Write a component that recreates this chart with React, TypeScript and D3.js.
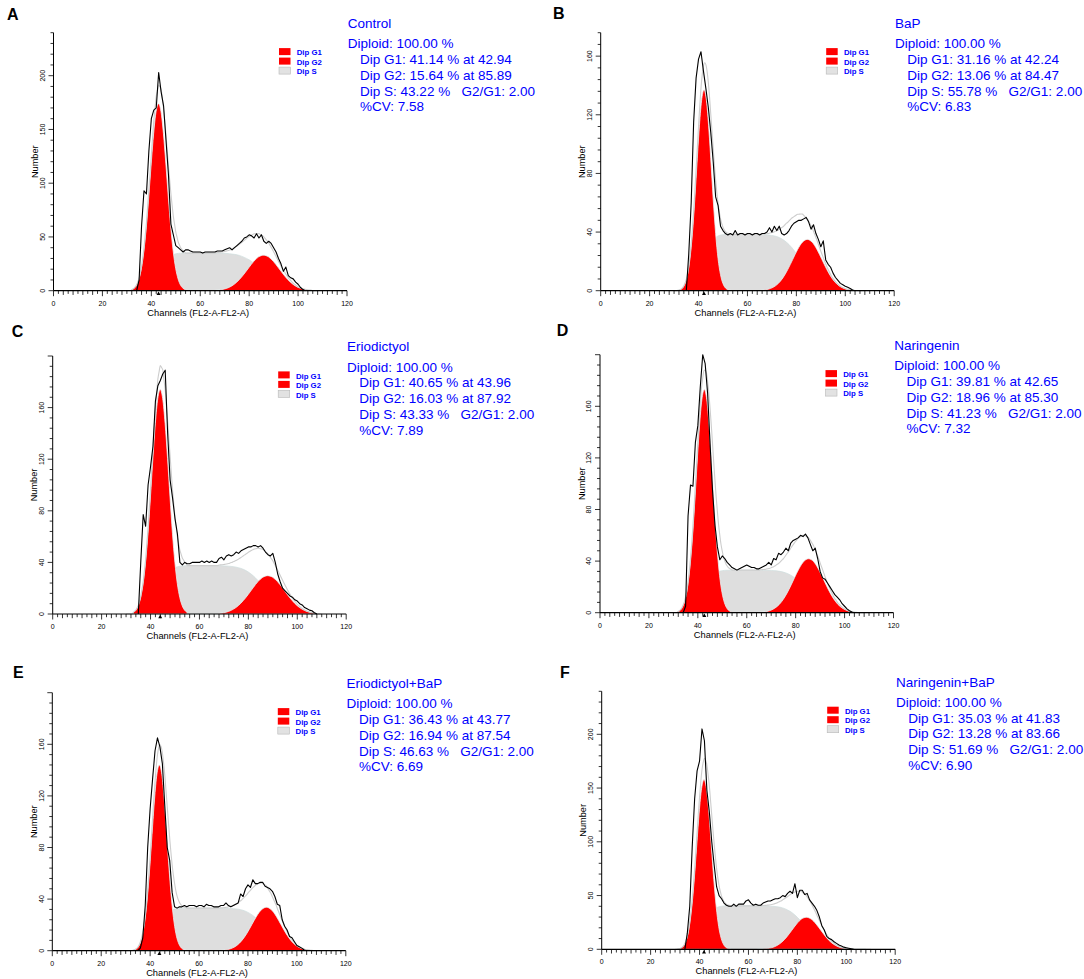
import React from 'react';
import * as d3 from 'd3';

// ---- data ----
const panelLetters = ['A', 'B', 'C', 'D', 'E', 'F'];
const panelTitles = ['Control', 'BaP', 'Eriodictyol', 'Naringenin', 'Eriodictyol+BaP', 'Naringenin+BaP'];
const g1Pct = ['41.14', '31.16', '40.65', '39.81', '36.43', '35.03'];
const g1Mean = [42.94, 42.24, 43.96, 42.65, 43.77, 41.83];
const g2Pct = ['15.64', '13.06', '16.03', '18.96', '16.94', '13.28'];
const g2Mean = [85.89, 84.47, 87.92, 85.3, 87.54, 83.66];
const sPct = ['43.22', '55.78', '43.33', '41.23', '46.63', '51.69'];
const ratio = ['2.00', '2.00', '2.00', '2.00', '2.00', '2.00'];
const cvPct = ['7.58', '6.83', '7.89', '7.32', '6.69', '6.90'];

const yMax = [240, 176, 200, 200, 200, 240];
const yLabelMax = [200, 160, 160, 160, 160, 200];
const yLabelStep = [50, 40, 40, 40, 40, 50];
const yMinorStep = [10, 8, 8, 8, 8, 10];
const xTickLabels = [0, 20, 40, 60, 80, 100, 120];

// raw histogram, one value per channel, starting at rawStart
const rawStart = [34, 35, 35, 34, 35, 34];
const rawA = [0, 10, 60, 93, 90, 130, 160, 168, 170, 203, 185, 172, 140, 108, 62, 52, 42, 40, 38, 36, 38, 38, 37, 36, 36, 36, 36, 35, 36, 36, 36, 36, 36, 37, 37, 37, 38, 39, 40, 38, 40, 42, 44, 46, 49, 50, 52, 51, 49, 53, 49, 52, 46, 44, 46, 44, 40, 36, 30, 25, 18, 22, 14, 12, 11, 8, 6, 3, 1, 0];
const rawB = [0, 25, 60, 115, 145, 158, 163, 150, 138, 125, 108, 88, 64, 58, 44, 41, 39, 38, 39, 38, 41, 38, 39, 39, 38, 39, 39, 38, 39, 39, 38, 39, 39, 40, 43, 40, 44, 41, 44, 39, 38, 39, 41, 44, 46, 47, 48, 48, 49, 50, 47, 42, 45, 39, 35, 30, 34, 21, 18, 16, 12, 9, 7, 5, 4, 3, 2.3, 1.5, 0.5, 0];
const rawC = [0, 40, 77, 68, 100, 114, 130, 165, 177, 181, 186, 189, 140, 104, 90, 74, 62, 40, 38, 40, 39, 39, 40, 40, 40, 40, 41, 40, 41, 40, 41, 40, 40, 43, 44, 42, 45, 46, 45, 46, 48, 47, 49, 50, 51, 52, 52, 53, 53, 52, 53, 51, 48, 46, 45, 47, 40, 31, 25, 20, 18, 16, 14, 13, 11, 10, 8, 7, 5, 4, 3, 2.5, 1, 0];
const rawD = [0, 5, 75, 99, 98, 132, 145, 175, 200, 193, 170, 131, 95, 68, 51, 41, 44, 42, 39, 37, 35, 34, 33, 34, 35, 36, 37, 36, 35, 35, 34, 34, 35, 36, 37, 39, 37, 42, 41, 46, 45, 47, 50, 48, 54, 56, 57, 58, 60, 59, 61, 58, 53, 48, 50, 42, 32, 27, 26, 23, 20, 17, 14, 12, 10, 7, 5, 3, 1.5, 0.5, 0];
const rawE = [0, 2, 10, 35, 80, 110, 133, 155, 165, 158, 145, 112, 80, 70, 45, 34, 33, 34, 34, 35, 34, 35, 35, 35, 34, 35, 35, 34, 36, 35, 35, 34, 34, 34, 35, 35, 37, 35, 34, 35, 36, 37, 44, 42, 48, 51, 49, 55, 52, 52, 53, 53, 50, 49, 48, 46, 42, 36, 35, 24, 19, 16, 11, 10, 7, 4, 3, 2, 0.5, 0];
const rawF = [0, 15, 40, 95, 140, 166, 175, 205, 194, 148, 128, 100, 78, 58, 50, 47, 43, 41, 40, 40, 42, 40, 42, 42, 42, 45, 46, 43, 41, 42, 41, 41, 43, 44, 45, 45, 46, 47, 47, 48, 50, 49, 52, 54, 52, 61, 48, 55, 55, 51, 52, 46, 43, 40, 36, 30, 22, 18, 12, 10, 9, 7, 5.5, 4, 3, 2, 1.5, 1, 0.5, 0];

// fitted G1 peak, one value per channel, centred on g1Mean (11 channels each side)
const g1A = [0.9, 2.3, 5.2, 11, 20.9, 36.7, 59, 87.2, 118, 146.3, 166.7, 174, 166.7, 146.3, 118, 87.2, 59, 36.7, 20.9, 11, 5.2, 2.3, 0.9];
const g1B = [0.2, 0.5, 1.5, 3.9, 9, 18.5, 34.1, 56.3, 83.2, 109.7, 129.6, 137, 129.6, 109.7, 83.2, 56.3, 34.1, 18.5, 9, 3.9, 1.5, 0.5, 0.2];
const g1C = [1.3, 2.9, 6.4, 12.8, 23.5, 40, 62.6, 90.7, 120.6, 147.7, 167, 174, 167, 147.7, 120.6, 90.7, 62.6, 40, 23.5, 12.8, 6.4, 2.9, 1.3];
const g1D = [0.7, 1.7, 4.2, 9.2, 18.2, 33, 54.8, 83, 114.5, 143.9, 165.2, 173, 165.2, 143.9, 114.5, 83, 54.8, 33, 18.2, 9.2, 4.2, 1.7, 0.7];
const g1E = [0.3, 0.8, 2.1, 5.2, 11.2, 22.2, 39.2, 62.6, 90.1, 116.9, 136.7, 144, 136.7, 116.9, 90.1, 62.6, 39.2, 22.2, 11.2, 5.2, 2.1, 0.8, 0.3];
const g1F = [0.2, 0.6, 1.7, 4.5, 10.4, 21.3, 39.3, 64.9, 95.9, 126.6, 149.5, 158, 149.5, 126.6, 95.9, 64.9, 39.3, 21.3, 10.4, 4.5, 1.7, 0.6, 0.2];

// fitted G2 peak, every 2 channels, centred on g2Mean (20 channels each side)
const g2A = [0.3, 0.7, 1.6, 3.2, 6, 10.1, 15.5, 21.5, 27.3, 31.5, 33, 31.5, 27.3, 21.5, 15.5, 10.1, 6, 3.2, 1.6, 0.7, 0.3];
const g2B = [0.1, 0.4, 1, 2.3, 4.7, 8.7, 14.4, 21.2, 28, 33.1, 35, 33.1, 28, 21.2, 14.4, 8.7, 4.7, 2.3, 1, 0.4, 0.1];
const g2C = [0.45, 1, 2, 3.8, 6.5, 10.4, 15.1, 20.3, 25.1, 28.5, 29.7, 28.5, 25.1, 20.3, 15.1, 10.4, 6.5, 3.8, 2, 1, 0.45];
const g2D = [0.2, 0.6, 1.5, 3.3, 6.4, 11.4, 18.2, 26.2, 33.9, 39.7, 41.8, 39.7, 33.9, 26.2, 18.2, 11.4, 6.4, 3.3, 1.5, 0.6, 0.2];
const g2E = [0.1, 0.3, 0.85, 2, 4.2, 8, 13.4, 20.1, 26.8, 31.8, 33.7, 31.8, 26.8, 20.1, 13.4, 8, 4.2, 2, 0.85, 0.3, 0.1];
const g2F = [0.08, 0.24, 0.66, 1.6, 3.5, 6.7, 11.5, 17.5, 23.5, 28.1, 29.8, 28.1, 23.5, 17.5, 11.5, 6.7, 3.5, 1.6, 0.66, 0.24, 0.08];

// S phase, every 2 channels from channel 36 to 108
const sStart = 36;
const sA = [0.7, 2.6, 6.8, 13.7, 21.8, 28.6, 32.6, 34.3, 34.9, 35, 35, 35, 35, 35, 35, 35, 35, 34.8, 34.4, 33.8, 32.8, 31, 28.7, 25.4, 21.5, 17.2, 13.1, 9.2, 6.1, 3.7, 2.1, 1.1, 0.5, 0.2, 0.1, 0, 0];
const sB = [0.7, 3, 8.7, 18, 27.7, 34.3, 37.4, 38.2, 38.4, 38.4, 38.4, 38.4, 38.4, 38.4, 38.4, 38.3, 38.1, 37.7, 36.9, 35.4, 33, 29.7, 25.3, 20.4, 15.2, 10.7, 6.9, 4.1, 2.2, 1, 0.5, 0.2, 0.1, 0, 0, 0, 0];
const sC = [0.5, 1.7, 4.8, 10.8, 18.9, 27, 32.8, 35.9, 37, 37.4, 37.5, 37.5, 37.5, 37.5, 37.5, 37.5, 37.5, 37.3, 37.1, 36.7, 35.9, 34.6, 32.5, 29.6, 25.8, 21.5, 17, 12.8, 9.1, 6, 3.7, 2.1, 1.1, 0.5, 0.2, 0.1, 0];
const sD = [0.7, 2.6, 7, 13.9, 21.7, 27.9, 31.3, 32.6, 32.9, 33, 33, 33, 33, 33, 33, 33, 32.9, 32.8, 32.5, 31.9, 30.8, 29.1, 26.5, 23.2, 19.2, 15, 10.9, 7.4, 4.6, 2.7, 1.4, 0.7, 0.3, 0.1, 0, 0, 0];
const sE = [0.2, 1, 3.7, 9.4, 17.4, 25.2, 30.1, 32.3, 32.9, 33, 33, 33, 33, 33, 33, 33, 33, 32.9, 32.9, 32.6, 32.2, 31.3, 29.7, 27.3, 24, 19.9, 15.4, 11.1, 7.5, 4.6, 2.5, 1.3, 0.6, 0.2, 0.1, 0, 0];
const sF = [1.1, 4, 10.9, 21.2, 30.9, 37.1, 39.6, 40.3, 40.4, 40.4, 40.4, 40.4, 40.4, 40.4, 40.4, 40.4, 40.3, 40, 39.5, 38.5, 36.6, 33.8, 29.7, 24.8, 19.2, 13.9, 9.2, 5.6, 3, 1.5, 0.7, 0.3, 0.1, 0, 0, 0, 0];

const raws = [rawA, rawB, rawC, rawD, rawE, rawF];
const g1s = [g1A, g1B, g1C, g1D, g1E, g1F];
const g2s = [g2A, g2B, g2C, g2D, g2E, g2F];
const ss = [sA, sB, sC, sD, sE, sF];

// ---- layout ----
const W = 1084;
const H = 979;
const plotW = 293.5;
const plotH = 258;
const layout = [
  { ax: 53.5, by: 290.7, lx: 7, ly: 19.8 },
  { ax: 600.7, by: 290.7, lx: 553, ly: 18.7 },
  { ax: 52.7, by: 614, lx: 11.7, ly: 336.7 },
  { ax: 600, by: 612.7, lx: 556.7, ly: 335.7 },
  { ax: 52.3, by: 950.7, lx: 13, ly: 677.7 },
  { ax: 601.7, by: 949.3, lx: 560, ly: 677.7 },
];

const font = 'Arial, "Liberation Sans", Helvetica, sans-serif';
const blue = '#0000ff';
const red = '#ff0000';
const grey = '#dedede';

type Pt = { c: number; v: number };

const toPts = (arr: number[], start: number, step: number): Pt[] =>
  arr.map((v, i) => ({ c: start + i * step, v }));

const valueAt = (arr: number[], start: number, step: number, c: number) => {
  const t = (c - start) / step;
  if (t < 0 || t > arr.length - 1) return 0;
  const i = Math.floor(t);
  const f = t - i;
  return arr[i] * (1 - f) + arr[Math.min(i + 1, arr.length - 1)] * f;
};

function Panel({ i }: { i: number }) {
  const L = layout[i];
  const top = L.by - plotH;
  const x = d3.scaleLinear().domain([0, 120]).range([L.ax, L.ax + plotW]);
  const y = d3.scaleLinear().domain([0, yMax[i]]).range([L.by, top]);

  const g1Start = g1Mean[i] - (g1s[i].length - 1) / 2;
  const g2Start = g2Mean[i] - (g2s[i].length - 1);

  const area = d3
    .area<Pt>()
    .x((d) => x(d.c))
    .y0(L.by)
    .y1((d) => y(d.v))
    .curve(d3.curveMonotoneX);
  const smooth = d3
    .line<Pt>()
    .x((d) => x(d.c))
    .y((d) => y(d.v))
    .curve(d3.curveMonotoneX);
  const jagged = d3
    .line<Pt>()
    .x((d) => x(d.c))
    .y((d) => y(d.v));

  const sumPts: Pt[] = d3.range(30, 110.01, 0.5).map((c) => ({
    c,
    v:
      valueAt(g1s[i], g1Start, 1, c) +
      valueAt(g2s[i], g2Start, 2, c) +
      valueAt(ss[i], sStart, 2, c),
  }));

  const yTicks = d3.range(0, yMax[i] + 0.001, yMinorStep[i]);
  const xTicks = d3.range(0, 120.001, 2);
  const tx = L.ax + 294.3;
  const mx = x(g1Mean[i]);

  const lines = [
    `Dip G1: ${g1Pct[i]} % at ${g1Mean[i].toFixed(2)}`,
    `Dip G2: ${g2Pct[i]} % at ${g2Mean[i].toFixed(2)}`,
    `Dip S: ${sPct[i]} %   G2/G1: ${ratio[i]}`,
    `%CV: ${cvPct[i]}`,
  ];
  const legend = [
    { label: 'Dip G1', fill: red, stroke: 'none' },
    { label: 'Dip G2', fill: red, stroke: 'none' },
    { label: 'Dip S', fill: '#e2e2e2', stroke: '#b8b8b8' },
  ];

  return (
    <g>
      <text x={L.lx} y={L.ly} fontFamily={font} fontWeight="bold" fontSize={16} fill="#000">
        {panelLetters[i]}
      </text>

      <path d={area(toPts(ss[i], sStart, 2)) || ''} fill={grey} stroke="#cfdede" strokeWidth={0.7} />
      <path d={area(toPts(g1s[i], g1Start, 1)) || ''} fill={red} stroke="#e6f2f2" strokeWidth={0.8} />
      <path d={area(toPts(g2s[i], g2Start, 2)) || ''} fill={red} stroke="#e6f2f2" strokeWidth={0.8} />
      <path d={smooth(sumPts) || ''} fill="none" stroke="#cdcdcd" strokeWidth={1.1} />
      <path d={jagged(toPts(raws[i], rawStart[i], 1)) || ''} fill="none" stroke="#000" strokeWidth={1.1} strokeLinejoin="round" />

      {/* axes */}
      <line x1={L.ax} x2={L.ax} y1={L.by} y2={top} stroke="#000" strokeWidth={1} />
      <line x1={L.ax} x2={x(120)} y1={L.by} y2={L.by} stroke="#000" strokeWidth={1.2} />
      {yTicks.map((v) => {
        const major = v % yLabelStep[i] === 0;
        return (
          <g key={`y${v}`}>
            <line x1={L.ax - (major ? 5 : 3)} x2={L.ax} y1={y(v)} y2={y(v)} stroke="#000" strokeWidth={0.8} />
            {major && v <= yLabelMax[i] && (
              <text
                transform={`translate(${L.ax - 8.6},${y(v)}) rotate(-90)`}
                textAnchor="middle"
                fontFamily={font}
                fontSize={7}
                fill="#000"
              >
                {v}
              </text>
            )}
          </g>
        );
      })}
      {xTicks.map((v) => {
        const major = v % 20 === 0;
        return (
          <line
            key={`x${v}`}
            x1={x(v)}
            x2={x(v)}
            y1={L.by}
            y2={L.by + (major ? 5.5 : v % 4 === 0 ? 4.2 : 3.2)}
            stroke="#000"
            strokeWidth={0.8}
          />
        );
      })}
      {xTickLabels.map((v) => (
        <text key={`xl${v}`} x={x(v)} y={L.by + 15} textAnchor="middle" fontFamily={font} fontSize={7} fill="#000">
          {v}
        </text>
      ))}
      <path d={`M${mx - 2},${L.by + 4.3}L${mx + 2},${L.by + 4.3}L${mx},${L.by + 0.8}Z`} fill="#000" />
      <text x={x(60) - 2} y={L.by + 24.8} textAnchor="middle" fontFamily={font} fontSize={9.3} fill="#000">
        Channels (FL2-A-FL2-A)
      </text>
      <text
        transform={`translate(${L.ax - 15.5},${(L.by + top) / 2}) rotate(-90)`}
        textAnchor="middle"
        fontFamily={font}
        fontSize={9.2}
        fill="#000"
      >
        Number
      </text>

      {/* legend */}
      {legend.map((d, k) => (
        <g key={d.label}>
          <rect x={L.ax + 225.5} y={top + 15.4 + k * 9.5} width={11.5} height={7} fill={d.fill} stroke={d.stroke} strokeWidth={0.6} />
          <text x={L.ax + 243.2} y={top + 22.6 + k * 9.5} fontFamily={font} fontSize={7.8} fontWeight="bold" fill={blue}>
            {d.label}
          </text>
        </g>
      ))}

      {/* result text */}
      <text x={tx} y={top - 4.8} fontFamily={font} fontSize={13.5} fill={blue}>
        {panelTitles[i]}
      </text>
      <text x={tx} y={top + 15.5} fontFamily={font} fontSize={13.5} fill={blue}>
        Diploid: 100.00 %
      </text>
      {lines.map((t, k) => (
        <text
          key={k}
          x={tx + 12.3}
          y={top + 31.4 + k * 15.7}
          fontFamily={font}
          fontSize={13.5}
          fill={blue}
          style={{ whiteSpace: 'pre' }}
        >
          {t}
        </text>
      ))}
    </g>
  );
}

export default function App() {
  return (
    <svg
      width={W}
      height={H}
      viewBox={`0 0 ${W} ${H}`}
      style={{ position: 'absolute', left: 0, top: 0, background: '#fff' }}
    >
      {panelLetters.map((_, i) => (
        <Panel key={i} i={i} />
      ))}
    </svg>
  );
}
